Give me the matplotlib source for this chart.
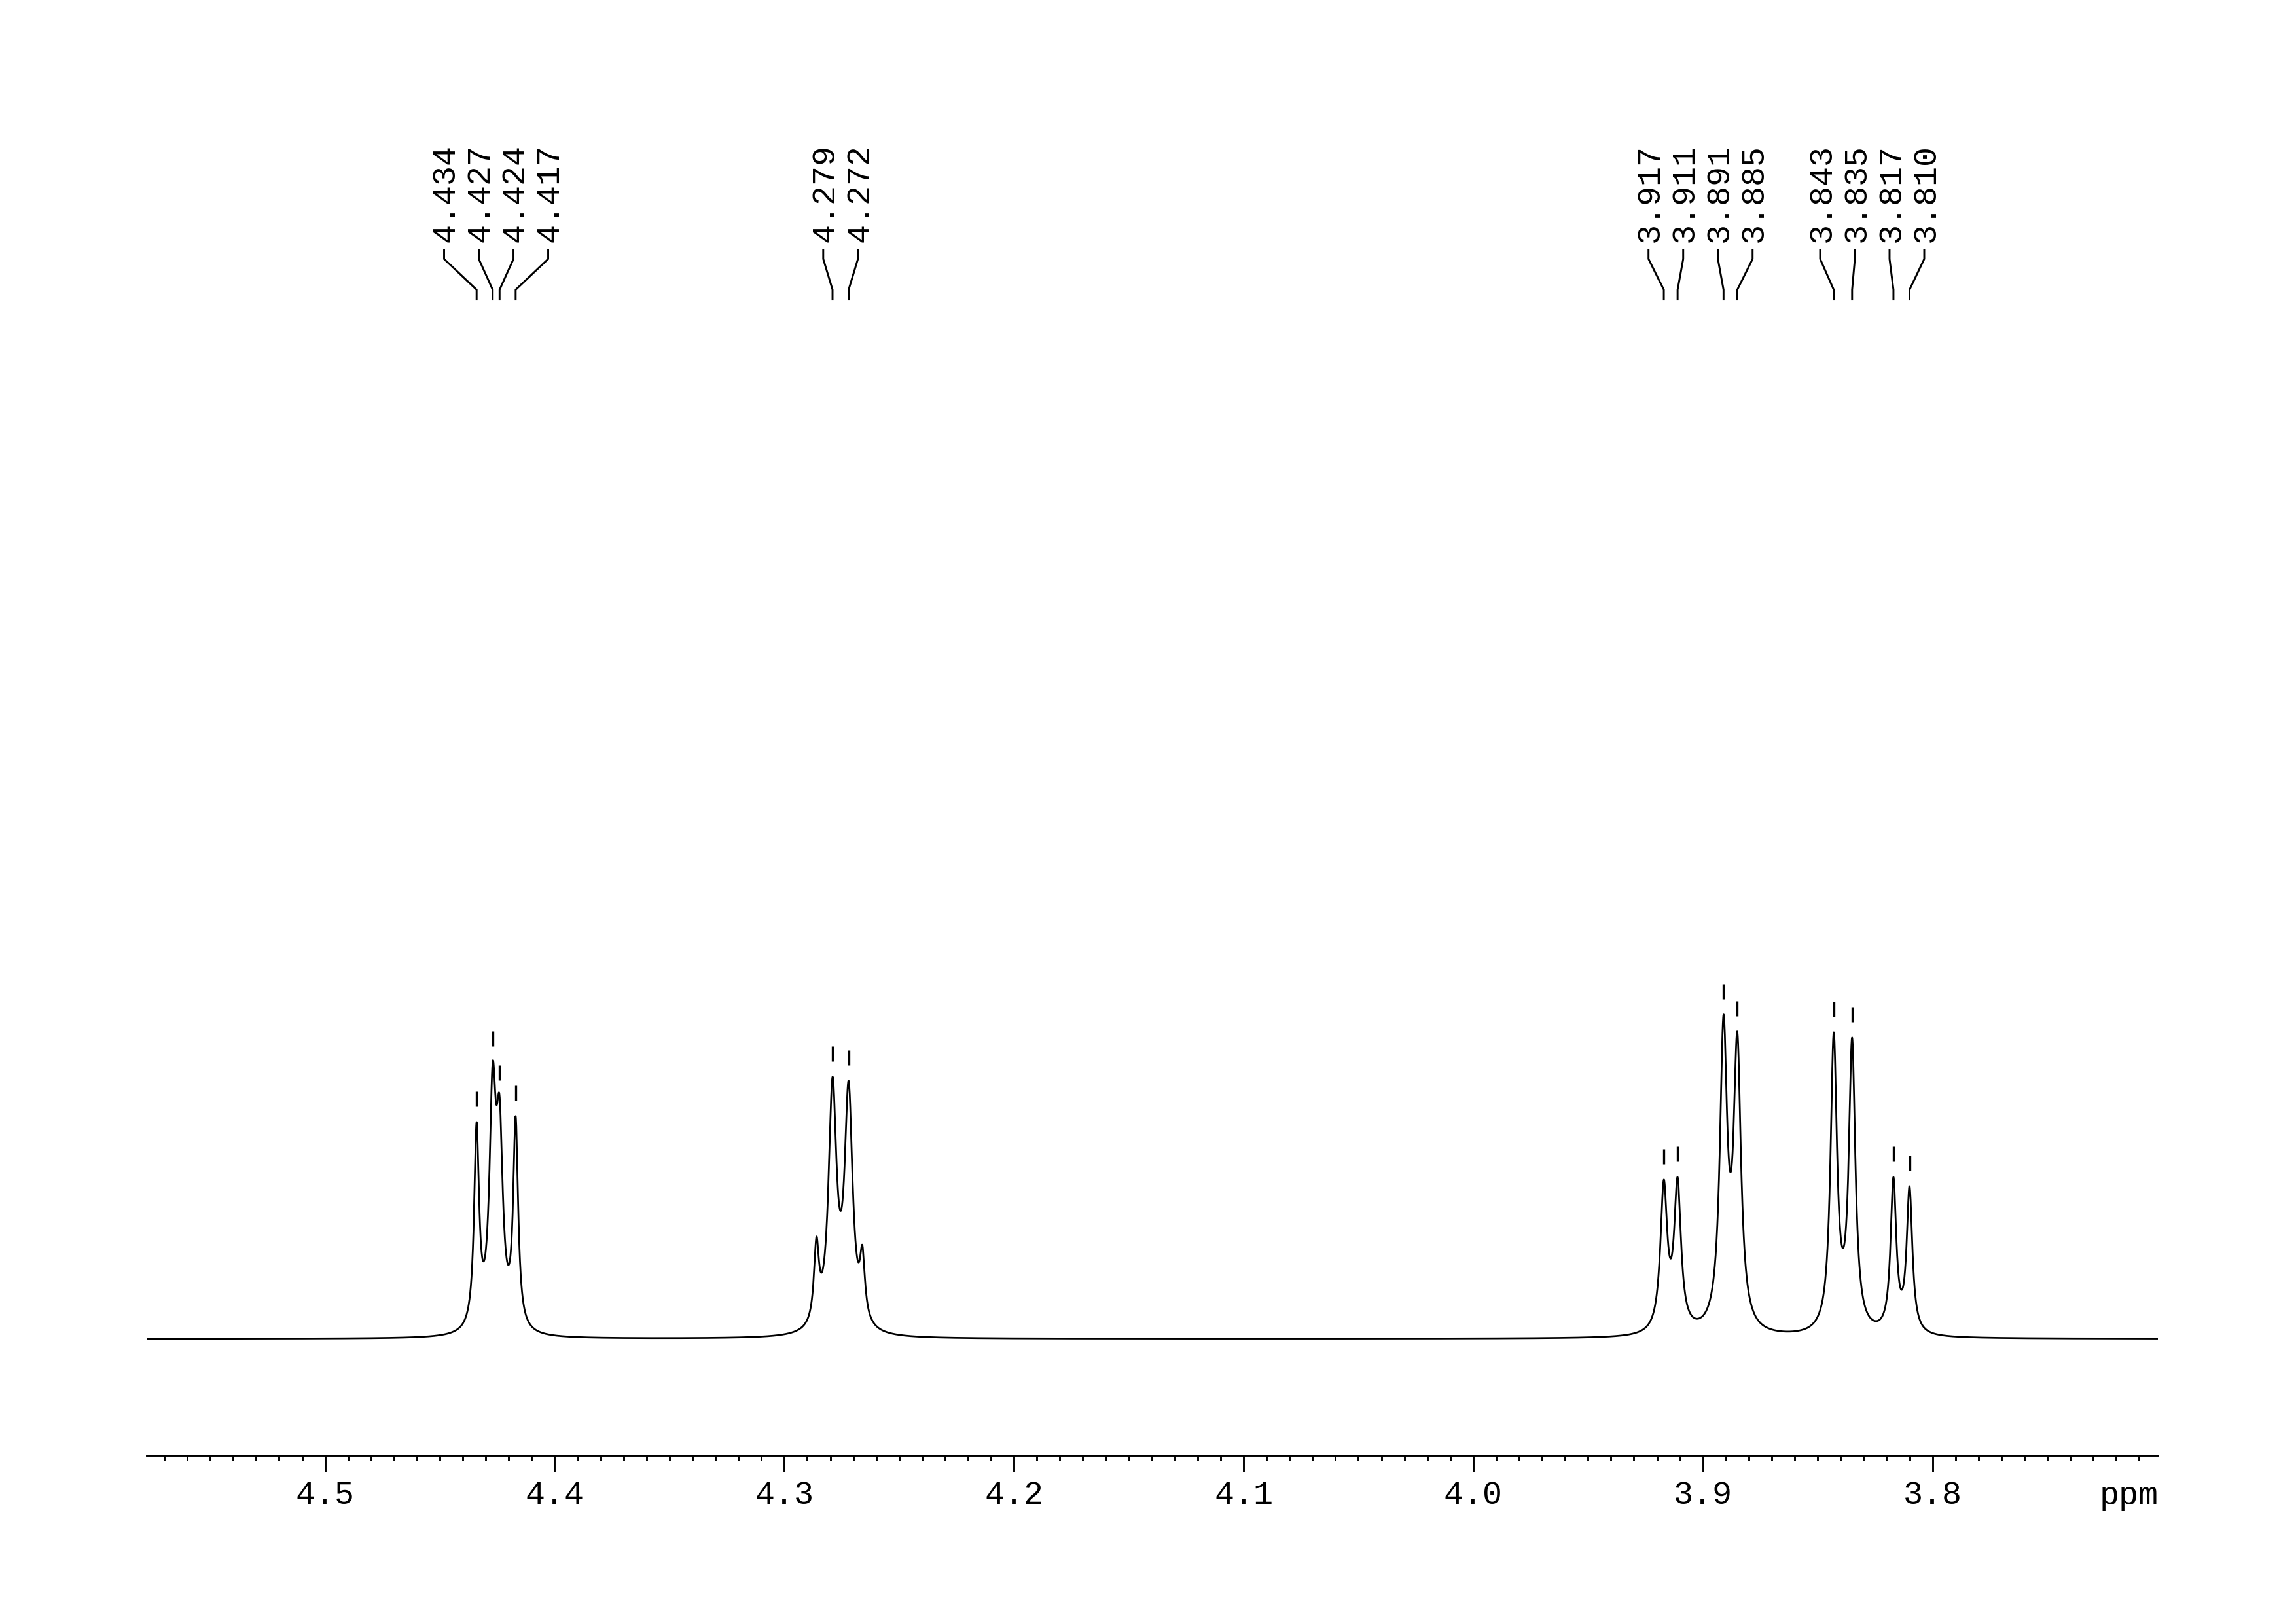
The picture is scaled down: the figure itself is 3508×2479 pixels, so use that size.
import numpy as np
import matplotlib
matplotlib.use("Agg")
import matplotlib.pyplot as plt
from matplotlib import transforms
from matplotlib.ticker import MultipleLocator, FormatStrFormatter

plt.rcParams['font.family'] = ['Liberation Mono', 'DejaVu Sans Mono']

# lines of the spectrum (ppm), apparent heights above baseline, half widths
peak_ppm = [4.434, 4.427, 4.424, 4.417,
            4.286, 4.279, 4.272, 4.266,
            3.917, 3.911, 3.891, 3.885,
            3.843, 3.835, 3.817, 3.810]
peak_height = [331, 423, 371, 340,
               156, 400, 394, 143,
               243, 247, 495, 469,
               468, 460, 247, 233]
peak_hwhm = [0.0013, 0.0017, 0.0017, 0.0013,
             0.0013, 0.0021, 0.0021, 0.0013,
             0.0018, 0.0018, 0.0019, 0.0019,
             0.0017, 0.0017, 0.0015, 0.0015]

# picked peaks, labelled in groups
label_groups = [[4.434, 4.427, 4.424, 4.417],
                [4.279, 4.272],
                [3.917, 3.911, 3.891, 3.885],
                [3.843, 3.835, 3.817, 3.810]]

x_left, x_right = 4.5777, 3.7017


def lorentz(x, x0, g):
    return 1.0 / (1.0 + ((x - x0) / g) ** 2)


# amplitudes so the summed lines reach the read heights
pk = np.array(peak_ppm)
gw = np.array(peak_hwhm)
M = lorentz(pk[:, None], pk[None, :], gw[None, :])
amp = np.linalg.solve(M, np.array(peak_height, dtype=float))

ppm = np.linspace(x_right, x_left, 12000)
spec = np.zeros_like(ppm)
for a, p, g in zip(amp, peak_ppm, peak_hwhm):
    spec += a * lorentz(ppm, p, g)

fig = plt.figure(figsize=(3508.5 / 300, 2479.5 / 300), dpi=300)
ax = fig.add_axes([224 / 3508, 1 - 2223 / 2479, (3297 - 224) / 3508, 2223 / 2479])
ax.plot(ppm, spec, color='black', lw=0.65)
ax.set_xlim(x_left, x_right)
ax.set_ylim(-178, 2045)

for s in ['left', 'right', 'top']:
    ax.spines[s].set_visible(False)
ax.spines['bottom'].set_linewidth(0.7)
ax.set_yticks([])
ax.xaxis.set_major_locator(MultipleLocator(0.1))
ax.xaxis.set_minor_locator(MultipleLocator(0.01))
ax.xaxis.set_major_formatter(FormatStrFormatter('%.1f'))
ax.tick_params(axis='x', which='major', length=6, width=0.7, pad=3, labelsize=12)
ax.tick_params(axis='x', which='minor', length=2, width=0.7)
fig.text(3297 / 3508, 1 - 2298 / 2479, 'ppm', ha='right', va='baseline', fontsize=12)

# small bars above the picked peaks
for grp in label_groups:
    for p in grp:
        h = np.interp(p, ppm, spec)
        ax.vlines(p, h + 24, h + 47, color='black', lw=0.8)

# peak labels with connectors
blend = transforms.blended_transform_factory(ax.transData, fig.transFigure)
text_tr = transforms.offset_copy(blend, fig=fig, x=3.7, y=0, units='points')
spacing = 53 / 3508 * (x_left - x_right) / ((3297 - 224) / 3508)
y_text = 1 - 370 / 2479
y_c = [1 - 382 / 2479, 1 - 396 / 2479, 1 - 443 / 2479, 1 - 457 / 2479]
for grp in label_groups:
    n = len(grp)
    mid = np.mean(grp)
    for k, p in enumerate(grp):
        lx = mid + ((n - 1) / 2 - k) * spacing
        ax.text(lx, y_text, '%.3f' % p, transform=text_tr, rotation=90,
                rotation_mode='anchor', ha='left', va='baseline', fontsize=12)
        ax.plot([lx, lx, p, p], y_c, color='black', lw=0.7,
                transform=blend, clip_on=False)

fig.savefig('out.png', dpi=300)
